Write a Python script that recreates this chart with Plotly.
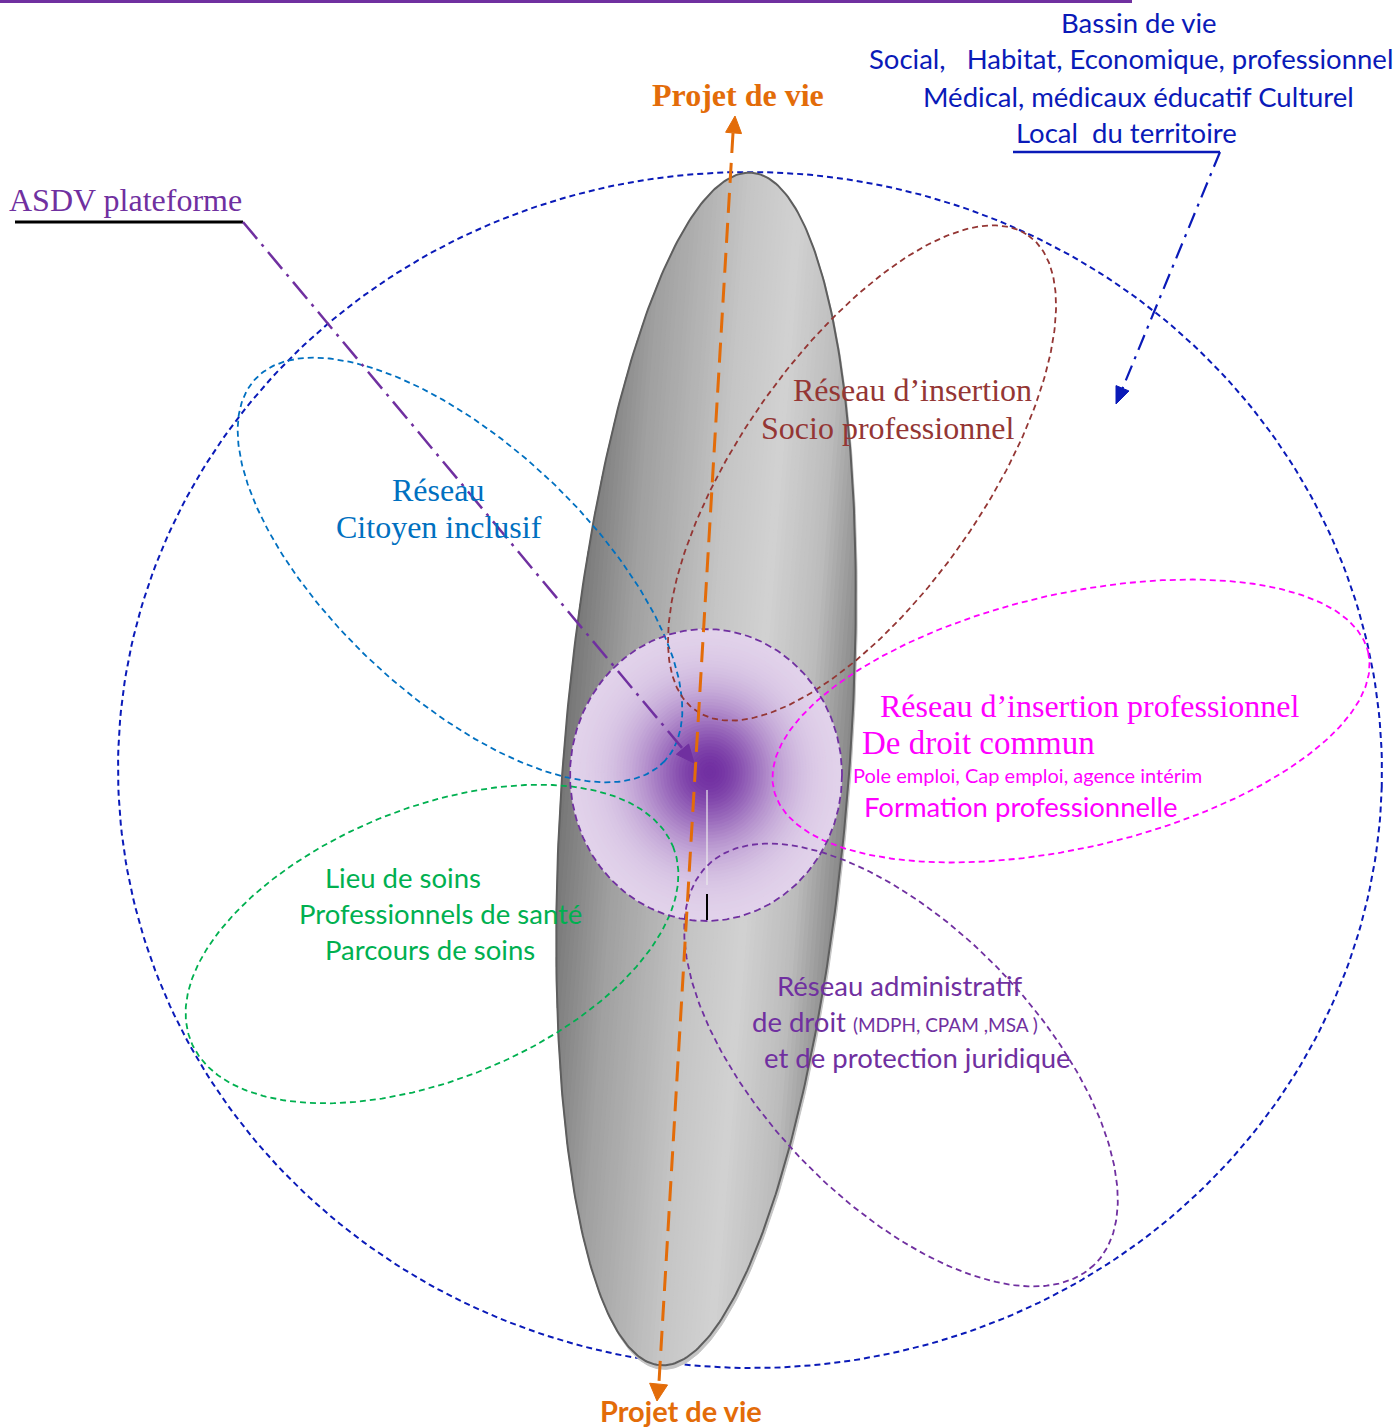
import numpy as np
import plotly.graph_objects as go

W, H = 1397, 1428

# ---------------- text content ----------------
BASSIN_LINES = ["Bassin de vie",
                "Social,   Habitat, Economique, professionnel",
                "Médical, médicaux éducatif Culturel",
                "Local  du territoire"]
PROJET_LABEL = "Projet de vie"
ASDV_LABEL = "ASDV plateforme"
CITOYEN_LINES = ["Réseau", "Citoyen inclusif"]
SOCIO_LINES = ["Réseau d\u2019insertion", "Socio professionnel"]
PRO_LINES = ["Réseau d\u2019insertion professionnel", "De droit commun",
             "Pole emploi, Cap emploi, agence intérim", "Formation professionnelle"]
SOINS_LINES = ["Lieu de soins", "Professionnels de santé", "Parcours de soins"]
ADMIN_LINES = ["Réseau administratif", "de droit", "(MDPH, CPAM ,MSA )",
               "et de protection juridique"]

# ---------------- network ellipses (name, centre, semi-axes, angle) ----------------
NET_NAMES = ["territoire", "citoyen", "socio", "pro", "soins", "admin"]
NET_CX = [750, 460, 862, 1071, 432, 901]
NET_CY = [770, 570, 473, 721, 944, 1065]
NET_A = [632, 280, 290, 305, 260, 278]
NET_B = [598, 127, 122, 127, 136, 137]
NET_ANGLE = [1.5, 43, -55, -13, -22, 46]
NET_COLORS = ["#0A1AB8", "#0070C0", "#943634", "#FF00FF", "#00B050", "#7030A0"]
NET_WIDTH = [2, 1.8, 1.8, 1.8, 1.8, 1.8]

# gray "life axis" ellipse
AXIS_C = (706, 769)
AXIS_A, AXIS_B, AXIS_ANGLE = 598, 143, -85.6
# central person circle
CORE_C = (706, 775)
CORE_A, CORE_B = 136, 146

ORANGE = "#E36C09"
PURPLE = "#7030A0"
BLUE = "#0A1AB8"


def ellipse(cx, cy, a, b, ang, n=400):
    t = np.linspace(0, 2 * np.pi, n)
    th = np.radians(ang)
    x = cx + a * np.cos(t) * np.cos(th) - b * np.sin(t) * np.sin(th)
    y = cy + a * np.cos(t) * np.sin(th) + b * np.sin(t) * np.cos(th)
    return x, y


def strip(cx, cy, a, b, ang, u0, u1, m=14):
    us = np.linspace(u0, u1, m)
    v = a * np.sqrt(np.clip(1 - (us / b) ** 2, 0, None))
    U = np.concatenate([us, us[::-1]])
    V = np.concatenate([v, -v[::-1]])
    th = np.radians(ang)
    e1 = (np.cos(th), np.sin(th))
    e2 = (-np.sin(th), np.cos(th))
    return cx + V * e1[0] + U * e2[0], cy + V * e1[1] + U * e2[1]


fig = go.Figure()


def poly(x, y, fill, line_color=None, lw=0.6):
    fig.add_trace(go.Scatter(x=list(x), y=list(y), mode="lines", fill="toself",
                             fillcolor=fill, line=dict(color=line_color or fill, width=lw),
                             hoverinfo="skip"))


def line(x, y, color, width, dash="solid"):
    fig.add_trace(go.Scatter(x=list(x), y=list(y), mode="lines",
                             line=dict(color=color, width=width, dash=dash),
                             hoverinfo="skip"))


def head(tip, frm, color, L=16, Wd=8):
    tip = np.array(tip, float)
    d = tip - np.array(frm, float)
    d /= np.linalg.norm(d)
    nrm = np.array([-d[1], d[0]])
    base = tip - L * d
    p1 = base + Wd * nrm
    p2 = base - Wd * nrm
    poly([tip[0], p1[0], p2[0], tip[0]], [tip[1], p1[1], p2[1], tip[1]], color, color, 1)


# top purple rule
line([0, 1132], [1, 1], PURPLE, 4)

# big territory ellipse (drawn first, under the gray axis)
x, y = ellipse(NET_CX[0], NET_CY[0], NET_A[0], NET_B[0], NET_ANGLE[0])
line(x, y, NET_COLORS[0], NET_WIDTH[0], "6px,4px")

# gray axis shadow
sx, sy = ellipse(AXIS_C[0] + 1.5, AXIS_C[1] + 4, AXIS_A, AXIS_B, AXIS_ANGLE)
poly(sx, sy, "#c4c4c4", "#c4c4c4", 1)

# gray axis with cylindrical gradient
stops_u = [-1.0, -0.6, 0.0, 0.35, 0.7, 1.0]
stops_g = [118, 160, 198, 210, 188, 135]
NS = 70
for k in range(NS):
    u0 = -AXIS_B + 2 * AXIS_B * k / NS
    u1 = -AXIS_B + 2 * AXIS_B * (k + 1) / NS + 0.8
    um = (u0 + u1) / 2 / AXIS_B
    g = int(np.interp(um, stops_u, stops_g))
    col = f"rgb({g},{g},{g})"
    px, py = strip(AXIS_C[0], AXIS_C[1], AXIS_A, AXIS_B, AXIS_ANGLE, u0, min(u1, AXIS_B))
    poly(px, py, col, col, 0.8)
ox, oy = ellipse(AXIS_C[0], AXIS_C[1], AXIS_A, AXIS_B, AXIS_ANGLE)
line(ox, oy, "#5e5e5e", 2)

# central circle with radial gradient
light = np.array([228, 214, 236])
dark = np.array([114, 48, 162])
NR = 45
for k in range(NR):
    r = 1 - k / NR
    t = np.exp(-(r / 0.5) ** 2)
    c = (light * (1 - t) + dark * t).astype(int)
    col = f"rgb({c[0]},{c[1]},{c[2]})"
    cx_, cy_ = ellipse(CORE_C[0] + 4 * (1 - r), CORE_C[1] - 3 * (1 - r), CORE_A * r, CORE_B * r, 0, 200)
    poly(cx_, cy_, col, col, 0.5)
# small marks in the core
line([707, 707], [790, 885], "rgba(235,235,235,0.8)", 1.5)
line([707, 707], [894, 920], "black", 2)

# network ellipses
for i in range(1, len(NET_NAMES)):
    x, y = ellipse(NET_CX[i], NET_CY[i], NET_A[i], NET_B[i], NET_ANGLE[i])
    line(x, y, NET_COLORS[i], NET_WIDTH[i], "6px,4px")
# core outline
x, y = ellipse(CORE_C[0], CORE_C[1], CORE_A, CORE_B, 0)
line(x, y, PURPLE, 1.8, "7px,4px")

# orange "projet de vie" axis
line([733, 659], [133, 1382], ORANGE, 3, "20px,10px")
head((735, 116), (733, 140), ORANGE, 17, 8)
head((657, 1401), (659, 1380), ORANGE, 17, 9)

# ASDV pointer
line([15, 243], [222, 222], "black", 3)
line([243, 688], [222, 755], PURPLE, 2.5, "22px,7px,3px,7px")
head((694, 763), (243, 222), PURPLE, 18, 8)

# territory pointer
line([1013, 1220], [152, 152], BLUE, 2.5)
line([1220, 1121], [152, 392], BLUE, 2.2, "16px,7px,3px,7px")
head((1116, 404), (1220, 152), BLUE, 17, 7)

# ---------------- annotations ----------------
SERIF = "Liberation Serif, Times New Roman, serif"
SANS = "Lato, Open Sans, sans-serif"
SZ = 27.5


def txt(x, y, s, size, color, family, anchor="center", bold=False):
    if bold:
        s = f"<b>{s}</b>"
    fig.add_annotation(x=x, y=y, xref="x", yref="y", text=s, showarrow=False,
                       xanchor=anchor, yanchor="middle",
                       font=dict(size=size, color=color, family=family))


for s, xc, yc in zip(BASSIN_LINES, [1139, 1131, 1138, 1126], [22, 58, 96, 132]):
    txt(xc, yc, s, SZ, BLUE, SANS)
txt(738, 95, PROJET_LABEL, 32, ORANGE, SERIF, bold=True)
txt(681, 1410, PROJET_LABEL, 29, ORANGE, SANS, bold=True)
txt(125, 200, ASDV_LABEL, 32, PURPLE, SERIF)
for s, xc, yc in zip(CITOYEN_LINES, [438, 439], [490, 527]):
    txt(xc, yc, s, 32, "#0070C0", SERIF)
for s, xc, yc in zip(SOCIO_LINES, [912, 887], [390, 428]):
    txt(xc, yc, s, 32, "#943634", SERIF)
txt(1090, 706, PRO_LINES[0], 32, "#FF00FF", SERIF)
txt(978, 743, PRO_LINES[1], 33, "#FF00FF", SERIF)
txt(1027, 775, PRO_LINES[2], 20, "#FF00FF", SANS)
txt(1021, 806, PRO_LINES[3], SZ, "#FF00FF", SANS)
for s, xc, yc in zip(SOINS_LINES, [403, 440, 430], [877, 913, 949]):
    txt(xc, yc, s, SZ, "#00B050", SANS)
txt(900, 985, ADMIN_LINES[0], SZ, PURPLE, SANS)
txt(750, 1021, f"{ADMIN_LINES[1]} <span style='font-size:19px'>{ADMIN_LINES[2]}</span>",
    SZ, PURPLE, SANS, anchor="left")
txt(917, 1057, ADMIN_LINES[3], SZ, PURPLE, SANS)

fig.update_layout(width=W, height=H, margin=dict(l=0, r=0, t=0, b=0),
                  paper_bgcolor="white", plot_bgcolor="white", showlegend=False,
                  xaxis=dict(range=[0, W], visible=False, fixedrange=True),
                  yaxis=dict(range=[H, 0], visible=False, fixedrange=True))
fig.write_html("out.html", config={"displayModeBar": False},
               post_script="document.body.style.margin='0';document.body.style.overflow='hidden';")
